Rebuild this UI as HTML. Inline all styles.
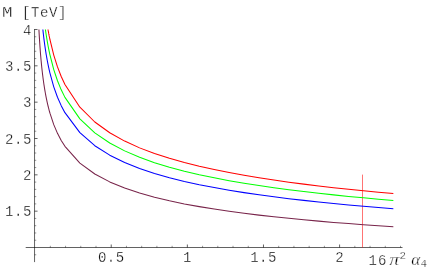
<!DOCTYPE html>
<html><head><meta charset="utf-8"><style>
html,body{margin:0;padding:0;background:#fff;}
svg{display:block;}
text{font-family:"Liberation Mono",monospace;font-size:14px;fill:#000;stroke:#fff;stroke-width:0.3px;letter-spacing:0.50px;}
.ser{font-family:"Liberation Serif",serif;font-style:italic;letter-spacing:0;}
.sm{font-size:10.8px;letter-spacing:0;}
</style></head><body>
<svg width="436" height="270" viewBox="0 0 436 270">
<rect width="436" height="270" fill="#fff"/>
<g stroke="#000" stroke-width="0.62" fill="none">
<line x1="25.7" y1="247.50" x2="402.5" y2="247.50"/>
<line x1="34.55" y1="29.0" x2="34.55" y2="262.1"/>
<line x1="50.33" y1="247.50" x2="50.33" y2="245.80" stroke-width="0.42"/>
<line x1="65.55" y1="247.50" x2="65.55" y2="245.80" stroke-width="0.42"/>
<line x1="80.78" y1="247.50" x2="80.78" y2="245.80" stroke-width="0.42"/>
<line x1="96.00" y1="247.50" x2="96.00" y2="245.80" stroke-width="0.42"/>
<line x1="111.22" y1="247.50" x2="111.22" y2="244.50"/>
<line x1="126.45" y1="247.50" x2="126.45" y2="245.80" stroke-width="0.42"/>
<line x1="141.68" y1="247.50" x2="141.68" y2="245.80" stroke-width="0.42"/>
<line x1="156.90" y1="247.50" x2="156.90" y2="245.80" stroke-width="0.42"/>
<line x1="172.12" y1="247.50" x2="172.12" y2="245.80" stroke-width="0.42"/>
<line x1="187.35" y1="247.50" x2="187.35" y2="244.50"/>
<line x1="202.58" y1="247.50" x2="202.58" y2="245.80" stroke-width="0.42"/>
<line x1="217.80" y1="247.50" x2="217.80" y2="245.80" stroke-width="0.42"/>
<line x1="233.03" y1="247.50" x2="233.03" y2="245.80" stroke-width="0.42"/>
<line x1="248.25" y1="247.50" x2="248.25" y2="245.80" stroke-width="0.42"/>
<line x1="263.48" y1="247.50" x2="263.48" y2="244.50"/>
<line x1="278.70" y1="247.50" x2="278.70" y2="245.80" stroke-width="0.42"/>
<line x1="293.93" y1="247.50" x2="293.93" y2="245.80" stroke-width="0.42"/>
<line x1="309.15" y1="247.50" x2="309.15" y2="245.80" stroke-width="0.42"/>
<line x1="324.38" y1="247.50" x2="324.38" y2="245.80" stroke-width="0.42"/>
<line x1="339.60" y1="247.50" x2="339.60" y2="244.50"/>
<line x1="354.83" y1="247.50" x2="354.83" y2="245.80" stroke-width="0.42"/>
<line x1="370.05" y1="247.50" x2="370.05" y2="245.80" stroke-width="0.42"/>
<line x1="385.28" y1="247.50" x2="385.28" y2="245.80" stroke-width="0.42"/>
<line x1="400.50" y1="247.50" x2="400.50" y2="245.80" stroke-width="0.42"/>
<line x1="34.55" y1="254.77" x2="36.25" y2="254.77" stroke-width="0.42"/>
<line x1="34.55" y1="240.23" x2="36.25" y2="240.23" stroke-width="0.42"/>
<line x1="34.55" y1="232.97" x2="36.25" y2="232.97" stroke-width="0.42"/>
<line x1="34.55" y1="225.70" x2="36.25" y2="225.70" stroke-width="0.42"/>
<line x1="34.55" y1="218.43" x2="36.25" y2="218.43" stroke-width="0.42"/>
<line x1="34.55" y1="211.16" x2="37.55" y2="211.16"/>
<line x1="34.55" y1="203.90" x2="36.25" y2="203.90" stroke-width="0.42"/>
<line x1="34.55" y1="196.63" x2="36.25" y2="196.63" stroke-width="0.42"/>
<line x1="34.55" y1="189.36" x2="36.25" y2="189.36" stroke-width="0.42"/>
<line x1="34.55" y1="182.10" x2="36.25" y2="182.10" stroke-width="0.42"/>
<line x1="34.55" y1="174.83" x2="37.55" y2="174.83"/>
<line x1="34.55" y1="167.56" x2="36.25" y2="167.56" stroke-width="0.42"/>
<line x1="34.55" y1="160.30" x2="36.25" y2="160.30" stroke-width="0.42"/>
<line x1="34.55" y1="153.03" x2="36.25" y2="153.03" stroke-width="0.42"/>
<line x1="34.55" y1="145.76" x2="36.25" y2="145.76" stroke-width="0.42"/>
<line x1="34.55" y1="138.50" x2="37.55" y2="138.50"/>
<line x1="34.55" y1="131.23" x2="36.25" y2="131.23" stroke-width="0.42"/>
<line x1="34.55" y1="123.96" x2="36.25" y2="123.96" stroke-width="0.42"/>
<line x1="34.55" y1="116.69" x2="36.25" y2="116.69" stroke-width="0.42"/>
<line x1="34.55" y1="109.43" x2="36.25" y2="109.43" stroke-width="0.42"/>
<line x1="34.55" y1="102.16" x2="37.55" y2="102.16"/>
<line x1="34.55" y1="94.89" x2="36.25" y2="94.89" stroke-width="0.42"/>
<line x1="34.55" y1="87.63" x2="36.25" y2="87.63" stroke-width="0.42"/>
<line x1="34.55" y1="80.36" x2="36.25" y2="80.36" stroke-width="0.42"/>
<line x1="34.55" y1="73.09" x2="36.25" y2="73.09" stroke-width="0.42"/>
<line x1="34.55" y1="65.82" x2="37.55" y2="65.82"/>
<line x1="34.55" y1="58.56" x2="36.25" y2="58.56" stroke-width="0.42"/>
<line x1="34.55" y1="51.29" x2="36.25" y2="51.29" stroke-width="0.42"/>
<line x1="34.55" y1="44.02" x2="36.25" y2="44.02" stroke-width="0.42"/>
<line x1="34.55" y1="36.76" x2="36.25" y2="36.76" stroke-width="0.42"/>
<line x1="34.55" y1="29.49" x2="37.55" y2="29.49"/>
</g>
<line x1="362.5" y1="174.6" x2="362.5" y2="247.50" stroke="#ff0000" stroke-width="0.55"/>
<path d="M48.00 29.49 L48.03 29.67 L48.06 29.84 L48.09 30.02 L48.12 30.20 L48.16 30.37 L48.19 30.55 L48.22 30.73 L48.25 30.90 L48.28 31.08 L48.32 31.25 L48.35 31.43 L48.38 31.61 L48.41 31.78 L48.45 31.96 L48.48 32.13 L48.51 32.31 L48.54 32.48 L48.58 32.66 L48.61 32.83 L48.64 33.01 L48.67 33.18 L48.71 33.36 L48.74 33.53 L48.77 33.71 L48.81 33.88 L48.84 34.05 L48.87 34.23 L48.91 34.40 L48.94 34.58 L48.98 34.75 L49.01 34.92 L49.04 35.10 L49.08 35.27 L49.11 35.44 L49.15 35.62 L49.18 35.79 L49.21 35.96 L49.25 36.14 L49.28 36.31 L49.32 36.48 L49.35 36.65 L49.39 36.83 L49.42 37.00 L49.46 37.17 L49.49 37.34 L49.53 37.52 L49.56 37.69 L49.60 37.86 L49.63 38.03 L49.67 38.20 L49.70 38.38 L49.74 38.55 L49.77 38.72 L49.81 38.89 L49.85 39.06 L49.88 39.23 L49.92 39.40 L49.95 39.57 L49.99 39.74 L50.03 39.91 L53.76 55.12 L57.49 66.93 L61.22 76.50 L64.95 84.50 L79.88 107.22 L94.81 122.00 L109.73 132.75 L124.66 141.10 L139.59 147.87 L154.51 153.53 L169.44 158.36 L184.37 162.57 L199.30 166.28 L214.22 169.59 L229.15 172.58 L244.08 175.29 L259.00 177.76 L273.93 180.04 L288.86 182.15 L303.78 184.11 L318.71 185.94 L333.64 187.65 L348.56 189.25 L363.49 190.77 L378.42 192.20 L393.34 193.55" fill="none" stroke="#ff0000" stroke-width="1.05" stroke-linejoin="round"/>
<path d="M45.40 29.49 L45.46 29.94 L45.53 30.39 L45.59 30.83 L45.66 31.28 L45.72 31.73 L45.79 32.17 L45.86 32.62 L45.92 33.06 L45.99 33.51 L46.06 33.95 L46.12 34.39 L46.19 34.83 L46.26 35.27 L46.33 35.71 L46.40 36.15 L46.47 36.59 L46.54 37.03 L46.61 37.47 L46.68 37.90 L46.76 38.34 L46.83 38.78 L46.90 39.21 L46.97 39.64 L47.05 40.08 L47.12 40.51 L47.20 40.94 L47.27 41.37 L47.35 41.80 L47.42 42.23 L47.50 42.66 L47.58 43.09 L47.65 43.52 L47.73 43.95 L47.81 44.37 L47.89 44.80 L47.97 45.23 L48.05 45.65 L48.13 46.07 L48.21 46.50 L48.29 46.92 L48.37 47.34 L48.45 47.76 L48.54 48.18 L48.62 48.60 L48.70 49.02 L48.79 49.44 L48.87 49.86 L48.96 50.28 L49.05 50.70 L49.13 51.11 L49.22 51.53 L49.31 51.94 L49.39 52.36 L49.48 52.77 L49.57 53.18 L49.66 53.60 L49.75 54.01 L49.84 54.42 L49.93 54.83 L50.03 55.24 L53.76 69.61 L57.49 80.78 L61.22 89.83 L64.95 97.39 L79.88 118.87 L94.81 132.84 L109.73 143.00 L124.66 150.89 L139.59 157.29 L154.51 162.64 L169.44 167.21 L184.37 171.19 L199.30 174.70 L214.22 177.83 L229.15 180.65 L244.08 183.21 L259.00 185.55 L273.93 187.70 L288.86 189.70 L303.78 191.55 L318.71 193.28 L333.64 194.89 L348.56 196.41 L363.49 197.84 L378.42 199.19 L393.34 200.47" fill="none" stroke="#00ff00" stroke-width="1.05" stroke-linejoin="round"/>
<path d="M42.85 29.49 L42.94 30.28 L43.02 31.07 L43.11 31.86 L43.20 32.65 L43.29 33.43 L43.38 34.21 L43.47 34.99 L43.56 35.77 L43.65 36.55 L43.75 37.32 L43.84 38.09 L43.94 38.86 L44.03 39.63 L44.13 40.39 L44.23 41.16 L44.33 41.92 L44.43 42.68 L44.53 43.43 L44.64 44.19 L44.74 44.94 L44.85 45.69 L44.96 46.44 L45.06 47.19 L45.17 47.93 L45.28 48.67 L45.40 49.41 L45.51 50.15 L45.62 50.89 L45.74 51.62 L45.86 52.35 L45.97 53.08 L46.09 53.81 L46.21 54.54 L46.34 55.26 L46.46 55.99 L46.58 56.71 L46.71 57.43 L46.84 58.14 L46.97 58.86 L47.10 59.57 L47.23 60.28 L47.36 60.99 L47.50 61.70 L47.63 62.40 L47.77 63.10 L47.91 63.80 L48.05 64.50 L48.19 65.20 L48.34 65.90 L48.48 66.59 L48.63 67.28 L48.78 67.97 L48.93 68.66 L49.08 69.34 L49.23 70.03 L49.39 70.71 L49.55 71.39 L49.70 72.07 L49.86 72.75 L50.03 73.42 L53.76 86.81 L57.49 97.21 L61.22 105.64 L64.95 112.68 L79.88 132.68 L94.81 145.69 L109.73 155.16 L124.66 162.51 L139.59 168.47 L154.51 173.45 L169.44 177.71 L184.37 181.41 L199.30 184.68 L214.22 187.60 L229.15 190.22 L244.08 192.61 L259.00 194.79 L273.93 196.80 L288.86 198.65 L303.78 200.38 L318.71 201.98 L333.64 203.49 L348.56 204.90 L363.49 206.24 L378.42 207.50 L393.34 208.69" fill="none" stroke="#0000ff" stroke-width="1.05" stroke-linejoin="round"/>
<path d="M38.92 29.49 L39.01 31.14 L39.10 32.77 L39.19 34.40 L39.28 36.02 L39.38 37.63 L39.48 39.23 L39.58 40.82 L39.68 42.40 L39.79 43.97 L39.89 45.54 L40.00 47.09 L40.12 48.64 L40.23 50.18 L40.35 51.70 L40.47 53.22 L40.59 54.74 L40.72 56.24 L40.85 57.73 L40.98 59.22 L41.12 60.70 L41.26 62.17 L41.40 63.63 L41.54 65.08 L41.69 66.52 L41.84 67.96 L42.00 69.39 L42.15 70.81 L42.32 72.22 L42.48 73.62 L42.65 75.02 L42.82 76.41 L43.00 77.79 L43.18 79.16 L43.37 80.53 L43.56 81.88 L43.75 83.23 L43.95 84.57 L44.16 85.91 L44.36 87.23 L44.58 88.55 L44.79 89.87 L45.02 91.17 L45.25 92.47 L45.48 93.76 L45.72 95.04 L45.96 96.31 L46.21 97.58 L46.47 98.84 L46.73 100.09 L46.99 101.34 L47.27 102.58 L47.55 103.81 L47.83 105.04 L48.13 106.25 L48.42 107.47 L48.73 108.67 L49.04 109.87 L49.36 111.06 L49.69 112.24 L50.03 113.42 L53.76 124.64 L57.49 133.35 L61.22 140.41 L64.95 146.31 L79.88 163.07 L94.81 173.98 L109.73 181.91 L124.66 188.07 L139.59 193.06 L154.51 197.24 L169.44 200.80 L184.37 203.91 L199.30 206.64 L214.22 209.09 L229.15 211.29 L244.08 213.29 L259.00 215.11 L273.93 216.79 L288.86 218.35 L303.78 219.79 L318.71 221.14 L333.64 222.40 L348.56 223.59 L363.49 224.71 L378.42 225.76 L393.34 226.76" fill="none" stroke="#78244a" stroke-width="1.05" stroke-linejoin="round"/>
<g style="filter:grayscale(1)">
<text x="97.92" y="261.8">0.5</text>
<text x="182.95" y="261.8">1</text>
<text x="250.18" y="261.8">1.5</text>
<text x="335.20" y="261.8">2</text>
<text x="22.90" y="34.60">4</text>
<text x="5.10" y="70.82">3.5</text>
<text x="22.90" y="107.16">3</text>
<text x="5.10" y="143.50">2.5</text>
<text x="22.90" y="179.83">2</text>
<text x="5.10" y="216.16">1.5</text>
<text transform="translate(2.1 16.5) scale(1.25 1)" x="0" y="0">M</text>
<text x="22.0" y="16.5" style="letter-spacing:0.6px">[TeV]</text>
<text x="368.6" y="264.9">1</text>
<text x="378.1" y="264.9">6</text>
<text transform="translate(389.2 264.9) scale(1.25 1)" x="0" y="0" class="ser" style="font-size:16.3px">π</text>
<text x="399.6" y="258.6" class="sm">2</text>
<text transform="translate(411.3 264.9) scale(1.05 1)" x="0" y="0" class="ser" style="font-size:16.4px">α</text>
<text x="420.6" y="266.8" class="sm">4</text>
</g>
</svg>
</body></html>
